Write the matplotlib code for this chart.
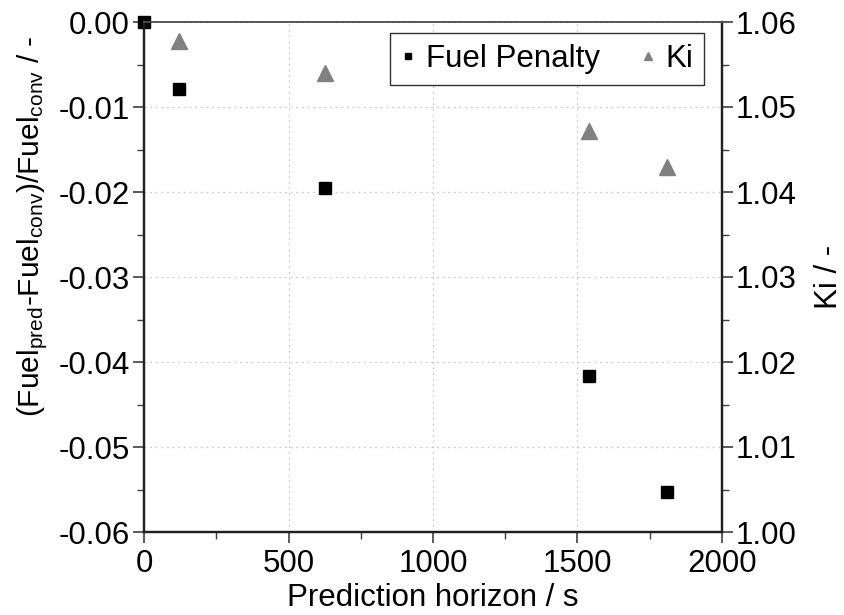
import numpy as np
import matplotlib
matplotlib.use("Agg")
import matplotlib.pyplot as plt

# data
horizon = [0, 120, 625, 1540, 1810]
fuel_penalty = [0.0, -0.0079, -0.0195, -0.0416, -0.0553]
ki_horizon = [120, 625, 1540, 1810]
ki_values = [1.0578, 1.0540, 1.0472, 1.0429]

x_ticks = [0, 500, 1000, 1500, 2000]
left_ticks = [0.00, -0.01, -0.02, -0.03, -0.04, -0.05, -0.06]
right_ticks = [1.00, 1.01, 1.02, 1.03, 1.04, 1.05, 1.06]

plt.rcParams['font.family'] = ['Liberation Sans', 'DejaVu Sans']
plt.rcParams['mathtext.default'] = 'regular'
fs = 22.5

fig = plt.figure(figsize=(8.45, 6.15), dpi=100)
ax = fig.add_axes([144 / 845, 83 / 615, 578 / 845, 510 / 615])
ax2 = ax.twinx()

# Fuel penalty (left axis)
ax.plot(horizon, fuel_penalty, linestyle='none', marker='s', markersize=9,
        color='black', clip_on=False, zorder=5, label='Fuel Penalty')
# Ki (right axis)
ax2.plot(ki_horizon, ki_values, linestyle='none', marker='^', markersize=11,
         color='#808080', clip_on=False, zorder=5, label='Ki')

ax.set_xlim(0, 2000)
ax.set_ylim(-0.06, 0.0)
ax2.set_ylim(1.0, 1.06)

ax.set_xticks(x_ticks)
ax.set_xticks(np.arange(250, 2000, 500), minor=True)
ax.set_yticks(left_ticks)
ax.set_yticklabels([f"{v:.2f}" for v in left_ticks])
ax.set_yticks(np.arange(-0.055, 0, 0.01), minor=True)
ax2.set_yticks(right_ticks)
ax2.set_yticklabels([f"{v:.2f}" for v in right_ticks])
ax2.set_yticks(np.arange(1.005, 1.06, 0.01), minor=True)

ax.grid(True, which='major', linestyle=(0, (1.5, 3)), color='#cccccc', lw=0.9)

for a in (ax, ax2):
    for s in a.spines.values():
        s.set_linewidth(1.6)
        s.set_color('#202020')
    a.spines['top'].set_color('#555555')
    a.spines['top'].set_linewidth(1.2)
    a.tick_params(which='major', direction='out', length=8, width=1.2,
                  labelsize=fs, color='#404040', pad=2)
    a.tick_params(which='minor', direction='out', length=5, width=1.0,
                  color='#404040')
ax.tick_params(axis='x', which='major', pad=4)
ax.tick_params(top=False, right=False)
ax2.tick_params(left=False, top=False)

ax.set_xlabel("Prediction horizon / s", fontsize=fs, labelpad=3)
ax.set_ylabel("(Fuel$_{pred}$-Fuel$_{conv}$)/Fuel$_{conv}$ / -", fontsize=21.5)
ax.yaxis.set_label_coords(-0.163, 0.60)
ax2.set_ylabel("Ki / -", fontsize=fs, labelpad=12)

h1, l1 = ax.get_legend_handles_labels()
h2, l2 = ax2.get_legend_handles_labels()
leg = ax2.legend(h1 + h2, l1 + l2, ncol=2, loc='upper right',
                 bbox_to_anchor=(0.969, 0.978), borderaxespad=0,
                 fontsize=fs, markerscale=0.55, fancybox=False,
                 framealpha=1, edgecolor='#303030', handlelength=0.5,
                 handletextpad=0.3, columnspacing=1.3, borderpad=0.35)
leg.get_frame().set_linewidth(1.0)

fig.savefig("out.png", dpi=100)
